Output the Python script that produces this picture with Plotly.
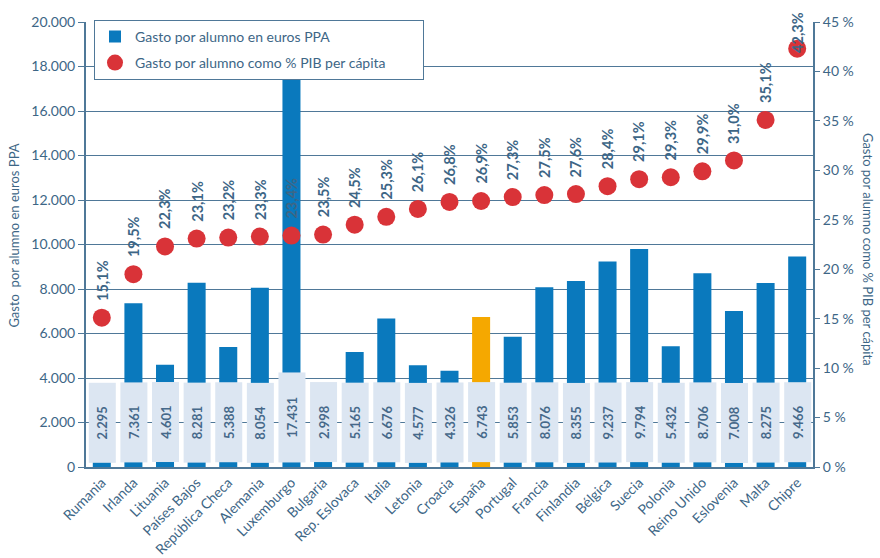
import plotly.graph_objects as go

countries = ["Rumania", "Irlanda", "Lituania", "Países Bajos", "República Checa", "Alemania",
             "Luxemburgo", "Bulgaria", "Rep. Eslovaca", "Italia", "Letonia", "Croacia", "España",
             "Portugal", "Francia", "Finlandia", "Bélgica", "Suecia", "Polonia", "Reino Unido",
             "Eslovenia", "Malta", "Chipre"]
gasto_ppa = [2295, 7361, 4601, 8281, 5388, 8054, 17431, 2998, 5165, 6676, 4577, 4326, 6743,
             5853, 8076, 8355, 9237, 9794, 5432, 8706, 7008, 8275, 9466]
gasto_pct = [15.1, 19.5, 22.3, 23.1, 23.2, 23.3, 23.4, 23.5, 24.5, 25.3, 26.1, 26.8, 26.9,
             27.3, 27.5, 27.6, 28.4, 29.1, 29.3, 29.9, 31.0, 35.1, 42.3]
left_ticks = list(range(0, 20001, 2000))
right_ticks = list(range(0, 46, 5))

FONT = "Lato, 'Open Sans', sans-serif"
TXT = "#3d6686"
GRID = "#4f7898"
BLUE = "#0a79bd"
ORANGE = "#f5a800"
RED = "#d93338"
BOXBG = "#dce6f2"

W, H = 880, 558
ML, MT, MR, MB = 86, 22, 67, 91
PW = W - ML - MR

bar_colors = [ORANGE if c == "España" else BLUE for c in countries]

fig = go.Figure()
fig.add_trace(go.Bar(
    x=countries, y=gasto_ppa, name="Gasto por alumno en euros PPA",
    marker=dict(color=bar_colors, line=dict(width=0)), width=0.57,
    yaxis="y", hoverinfo="skip", legendgroup="a"))
fig.add_trace(go.Scatter(
    x=countries, y=gasto_pct,
    name="Gasto por alumno como % PIB per cápita" + "\u00a0" * 9,
    mode="markers", marker=dict(color=RED, size=18, line=dict(width=0)),
    yaxis="y2", hoverinfo="skip", legendgroup="b"))

def fmt_thousands(v):
    return f"{v:,}".replace(",", ".")

annotations = []
for c, v in zip(countries, gasto_ppa):
    lbl = fmt_thousands(v)
    annotations.append(dict(
        x=c, y=0, xref="x", yref="y", text=f"<b>{lbl}</b>", showarrow=False,
        textangle=-90, yanchor="bottom", xanchor="center", yshift=4,
        width=85 if len(lbl) > 5 else 75, height=22, borderpad=2,
        bgcolor=BOXBG, font=dict(family=FONT, size=13, color="#46698a")))

for c, p in zip(countries, gasto_pct):
    lbl = f"{p:.1f}%".replace(".", ",")
    if p > 40:
        annotations.append(dict(
            x=c, y=p, xref="x", yref="y2", text=f"<b>{lbl}</b>", showarrow=False,
            textangle=-90, yanchor="middle", xanchor="center", yshift=16,
            font=dict(family=FONT, size=14.5, color=TXT)))
    else:
        annotations.append(dict(
            x=c, y=p, xref="x", yref="y2", text=f"<b>{lbl}</b>", showarrow=False,
            textangle=-90, yanchor="bottom", xanchor="center", yshift=15,
            font=dict(family=FONT, size=14.5, color=TXT)))

annotations.append(dict(
    x=(14 - ML) / PW, y=0.52, xref="paper", yref="paper", xanchor="center", yanchor="middle",
    text="Gasto  por alumno en euros PPA", showarrow=False, textangle=-90,
    font=dict(family=FONT, size=13, color=TXT)))
annotations.append(dict(
    x=(868 - ML) / PW, y=0.49, xref="paper", yref="paper", xanchor="center", yanchor="middle",
    text="Gasto por alumno como % PIB per cápita", showarrow=False, textangle=90,
    font=dict(family=FONT, size=13, color=TXT)))

fig.update_layout(
    width=W, height=H,
    margin=dict(l=ML, r=MR, t=MT, b=MB, autoexpand=False),
    paper_bgcolor="white", plot_bgcolor="white",
    separators=",.",
    font=dict(family=FONT, size=13, color=TXT),
    showlegend=True,
    legend=dict(
        x=0.011, y=1.005, xanchor="left", yanchor="top",
        bgcolor="white", bordercolor=GRID, borderwidth=1,
        font=dict(family=FONT, size=14, color=TXT),
        tracegroupgap=5, itemwidth=30,
    ),
    xaxis=dict(
        type="category", tickangle=-45, showgrid=False, showline=True, automargin=False,
        linecolor=GRID, linewidth=2, ticks="", tickfont=dict(family=FONT, size=14, color=TXT),
        range=[-0.5, len(countries) - 0.5],
    ),
    yaxis=dict(
        range=[0, 20000], tickvals=left_ticks, ticktext=[fmt_thousands(t) for t in left_ticks],
        showgrid=True, gridcolor=GRID, gridwidth=1.3, zeroline=False, automargin=False,
        showline=True, linecolor=GRID, linewidth=2, ticks="outside", ticklen=6,
        tickcolor=GRID, tickfont=dict(family=FONT, size=14, color=TXT),
    ),
    yaxis2=dict(
        range=[0, 45], tickvals=right_ticks, ticktext=[f"{t} %" for t in right_ticks],
        overlaying="y", side="right", showgrid=False, zeroline=False, automargin=False,
        showline=True, linecolor=GRID, linewidth=2, ticks="outside", ticklen=5,
        tickcolor=GRID, tickfont=dict(family=FONT, size=14, color=TXT),
    ),
    annotations=annotations,
)

fig.write_html("out.html", config={"displayModeBar": False},
               post_script="document.body.style.margin='0';document.body.style.overflow='hidden';")
